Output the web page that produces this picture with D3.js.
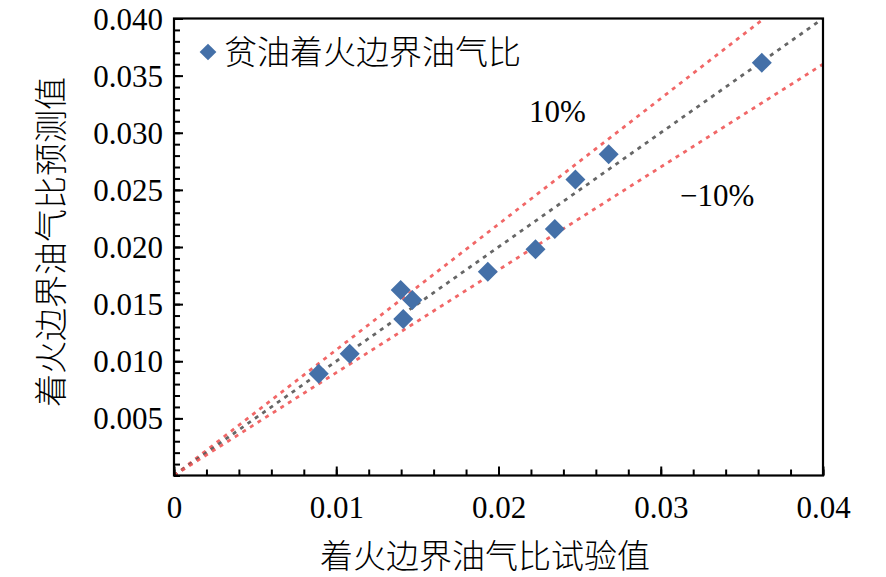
<!DOCTYPE html>
<html lang="zh">
<head>
<meta charset="UTF-8">
<title>着火边界油气比</title>
<script src="https://cdn.jsdelivr.net/npm/d3@7/dist/d3.min.js"></script>
<style>
    body { margin: 0; background: #fff; }
    .tick-label { font-family: "Liberation Serif", "Times New Roman", serif; font-size: 31px; fill: #000; }
    .cjk { font-family: "Noto Sans CJK SC", sans-serif; font-size: 33px; font-weight: 300; fill: #000; }
</style>
</head>
<body>
<svg id="chart" width="886" height="577"></svg>
<script>
    // data
    const measured  = [0.00892, 0.01083, 0.01397, 0.01469, 0.01413, 0.01934, 0.02228, 0.02347, 0.02474, 0.02679, 0.03623];
    const predicted = [0.00891, 0.01066, 0.01624, 0.01537, 0.01369, 0.01784, 0.01980, 0.02157, 0.02591, 0.02812, 0.03613];
    const xTicks = [0, 0.01, 0.02, 0.03, 0.04];
    const xTickLabels = ['0', '0.01', '0.02', '0.03', '0.04'];
    const yTicks = [0.005, 0.010, 0.015, 0.020, 0.025, 0.030, 0.035, 0.040];
    const yTickLabels = ['0.005', '0.010', '0.015', '0.020', '0.025', '0.030', '0.035', '0.040'];
    const bandFactors = [1.1, 1.0, 0.9];
    const legendLabel = '贫油着火边界油气比';
    const xTitle = '着火边界油气比试验值';
    const yTitle = '着火边界油气比预测值';

    const svg = d3.select('#chart');
    const area = {left: 174, right: 823, top: 18.5, bottom: 475.5};

    const x = d3.scaleLinear().domain([0, 0.04]).range([area.left, area.right]);
    const y = d3.scaleLinear().domain([0, 0.04]).range([area.bottom, area.top]);

    const plot = svg.append('g');
    svg.append('clipPath').attr('id', 'clip')
        .append('rect')
        .attr('x', area.left).attr('y', area.top)
        .attr('width', area.right - area.left).attr('height', area.bottom - area.top);

    // reference lines: y = x and +/-10%
    bandFactors.forEach(function (f) {
        let xEnd = Math.min(0.04, 0.04 / f);
        plot.append('line')
            .attr('clip-path', 'url(#clip)')
            .attr('x1', x(0)).attr('y1', y(0))
            .attr('x2', x(xEnd)).attr('y2', y(xEnd * f))
            .attr('stroke', f === 1 ? '#555' : '#f05656')
            .attr('stroke-opacity', 0.9)
            .attr('stroke-width', 2.8)
            .attr('stroke-dasharray', '4,5');
    });

    // points
    const pts = measured.map(function (d, i) { return [d, predicted[i]]; });
    plot.selectAll('path.pt')
        .data(pts)
        .enter()
        .append('path')
        .attr('class', 'pt')
        .attr('d', d3.symbol().type(d3.symbolSquare).size(200))
        .attr('transform', function (d) { return 'translate(' + x(d[0]) + ',' + y(d[1]) + ') rotate(45)'; })
        .attr('fill', '#4470a8');

    // axes with inward ticks
    const xMinor = d3.range(0, 0.0401, 0.002);
    const yMinor = d3.range(0, 0.0401, 0.001);

    svg.append('g')
        .attr('transform', 'translate(0,' + area.bottom + ')')
        .call(d3.axisBottom(x).tickValues(xMinor).tickSize(-6).tickFormat(''))
        .call(function (g) { g.select('.domain').remove(); g.selectAll('line').attr('stroke-width', 2); });
    svg.append('g')
        .attr('transform', 'translate(0,' + area.bottom + ')')
        .call(d3.axisBottom(x).tickValues(xTicks).tickSize(-9).tickFormat(function (d, i) { return xTickLabels[i]; }))
        .call(function (g) {
            g.select('.domain').remove();
            g.selectAll('line').attr('stroke-width', 2);
            g.selectAll('text').attr('class', 'tick-label').attr('y', 20).attr('dy', '0.71em');
        });

    svg.append('g')
        .attr('transform', 'translate(' + area.left + ',0)')
        .call(d3.axisLeft(y).tickValues(yMinor).tickSize(-6).tickFormat(''))
        .call(function (g) { g.select('.domain').remove(); g.selectAll('line').attr('stroke-width', 2); });
    svg.append('g')
        .attr('transform', 'translate(' + area.left + ',0)')
        .call(d3.axisLeft(y).tickValues(yTicks).tickSize(-9).tickFormat(function (d, i) { return yTickLabels[i]; }))
        .call(function (g) {
            g.select('.domain').remove();
            g.selectAll('line').attr('stroke-width', 2);
            g.selectAll('text').attr('class', 'tick-label').attr('x', -11).attr('dy', '0.34em');
        });

    // frame
    svg.append('rect')
        .attr('x', area.left).attr('y', area.top)
        .attr('width', area.right - area.left).attr('height', area.bottom - area.top)
        .attr('fill', 'none').attr('stroke', '#000').attr('stroke-width', 2.2);

    // legend
    svg.append('path')
        .attr('d', d3.symbol().type(d3.symbolSquare).size(140))
        .attr('transform', 'translate(208,52) rotate(45)')
        .attr('fill', '#4470a8');
    svg.append('text').attr('class', 'cjk').attr('x', 224).attr('y', 64).text(legendLabel);

    // band labels
    svg.append('text').attr('class', 'tick-label').attr('x', 529).attr('y', 122).text('10%');
    svg.append('text').attr('class', 'tick-label').attr('x', 680).attr('y', 206).text('\u221210%');

    // axis titles
    svg.append('text').attr('class', 'cjk').attr('text-anchor', 'middle')
        .attr('x', 485).attr('y', 568).text(xTitle);
    svg.append('text').attr('class', 'cjk').attr('text-anchor', 'middle')
        .attr('transform', 'translate(63,242) rotate(-90)')
        .text(yTitle);
</script>
</body>
</html>
